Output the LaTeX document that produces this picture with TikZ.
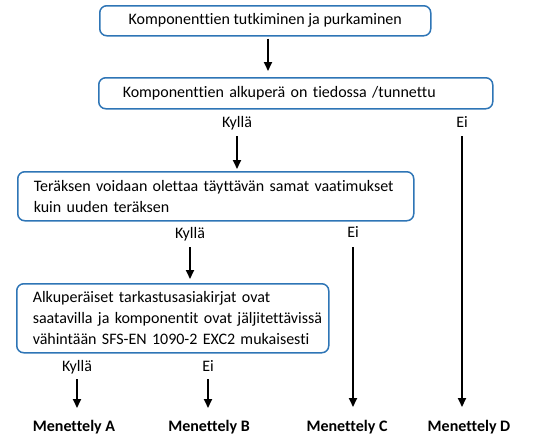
\documentclass[tikz,border=0pt]{standalone}
\usepackage{fontspec}
\setmainfont{Carlito}[Ligatures={NoCommon,NoDiscretionary,NoRare}]
\usetikzlibrary{arrows.meta}
\definecolor{boxblue}{HTML}{2E75B6}
\begin{document}
\begin{tikzpicture}[x=1pt,y=-1pt,
  every node/.style={font=\fontsize{16}{21}\selectfont},
  box/.style={draw=boxblue, line width=1.5pt, rounded corners=7pt, fill=white, anchor=north west, inner ysep=0pt},
  lbl/.style={anchor=base, inner sep=0pt},
  res/.style={anchor=base, inner sep=0pt, font=\fontsize{16}{21}\selectfont\bfseries},
  arr/.style={line width=2pt, -{Triangle[length=9pt,width=8pt]}}]
\useasboundingbox (0,0) rectangle (533,434);
% boxes
\node[box, minimum width=331pt, minimum height=30pt] (b1) at (99,5) {Komponenttien tutkiminen ja purkaminen};
\node[box, minimum height=31pt, text width=346pt, inner xsep=24pt, align=left] (b2) at (98,77) {Komponenttien alkuperä on tiedossa /tunnettu};
\node[box, minimum height=49pt, text width=364pt, inner xsep=16pt, align=left] (b3) at (17,171) {\mbox{Teräksen voidaan olettaa täyttävän samat vaatimukset}\\kuin uuden teräksen};
\node[box, minimum height=69pt, text width=280pt, inner xsep=16pt, align=left] (b4) at (16,283) {\mbox{Alkuperäiset tarkastusasiakirjat ovat}\\\mbox{saatavilla ja komponentit ovat jäljitettävissä}\\\mbox{vähintään SFS-EN 1090-2 EXC2 mukaisesti}};
% labels
\node[lbl] (k1) at (237,127) {Kyllä};
\node[lbl] (e1) at (462,127.5) {Ei};
\node[lbl] (k2) at (190,238) {Kyllä};
\node[lbl] (e2) at (353,237) {Ei};
\node[lbl] (k3) at (77,371) {Kyllä};
\node[lbl] (e3) at (208,371) {Ei};
\node[res] (mA) at (74,431) {Menettely A};
\node[res] (mB) at (209,431) {Menettely B};
\node[res] (mC) at (347,431) {Menettely C};
\node[res] (mD) at (469,431) {Menettely D};
\coordinate (a1) at (268,0);
% connectors
\draw[arr, shorten <=2pt, shorten >=6pt] (b1.south -| a1) -- (b2.north -| a1);
\draw[arr, shorten <=9pt, shorten >=2pt] (k1.base) -- (k1.base |- b3.north);
\draw[arr, shorten <=8.5pt, shorten >=24pt] (e1.base) -- (e1.base |- mD.base);
\draw[arr, shorten <=9pt, shorten >=4pt] (k2.base) -- (k2.base |- b4.north);
\draw[arr, shorten <=10pt, shorten >=24pt] (e2.base) -- (e2.base |- mC.base);
\draw[arr, shorten <=8pt, shorten >=23pt] (k3.base) -- (k3.base |- mA.base);
\draw[arr, shorten <=8pt, shorten >=23pt] (e3.base) -- (e3.base |- mB.base);
\end{tikzpicture}
\end{document}
